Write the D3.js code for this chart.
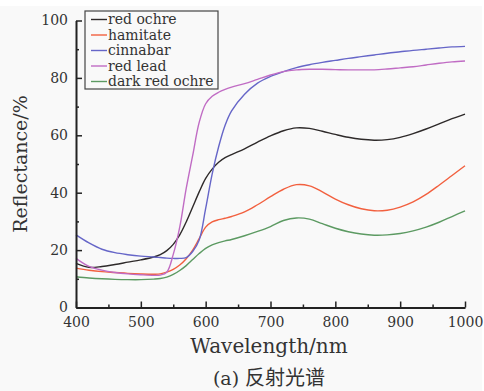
<!DOCTYPE html>
<html>
<head>
<meta charset="utf-8">
<script src="https://cdn.jsdelivr.net/npm/d3@7"></script>
<style>
  html, body { margin: 0; padding: 0; background: #ffffff; }
  svg { display: block; }
</style>
</head>
<body>
<svg id="chart" width="484" height="391"></svg>
<script>
// Reflectance spectra of red pigments
const wavelengths = [400,420,440,460,480,500,520,530,540,550,560,570,580,590,600,610,620,630,640,660,680,700,720,740,760,780,800,820,840,860,880,900,920,940,960,980,1000];

const redOchre = [15.4,14.0,14.3,15.0,15.8,16.6,17.6,18.4,19.8,22.0,25.3,29.8,35.0,40.3,45.0,48.2,50.6,52.2,53.3,55.3,57.6,59.8,61.6,62.6,62.4,61.4,60.3,59.3,58.6,58.3,58.5,59.3,60.6,62.2,64.0,65.8,67.4];
const hamitate = [13.7,13.0,12.5,12.2,11.9,11.7,11.6,11.7,12.3,13.3,14.8,17.0,20.0,24.0,28.0,29.8,30.6,31.1,31.7,33.3,35.8,38.6,41.2,42.8,42.4,40.3,37.8,35.8,34.4,33.7,33.9,35.0,36.8,39.4,42.6,46.0,49.4];
const cinnabar = [25.3,22.5,20.3,19.1,18.4,17.9,17.6,17.4,17.2,17.1,17.1,17.4,19.5,23.5,34.5,46.5,56.0,63.5,68.5,74.3,78.2,80.5,82.2,83.6,84.6,85.4,86.1,86.8,87.4,88.0,88.6,89.1,89.6,90.0,90.4,90.8,91.0];
const redLead = [17.1,14.3,13.0,12.2,11.7,11.4,11.2,11.3,12.3,18.5,28.0,41.5,53.0,64.5,71.0,73.6,75.0,76.0,76.8,78.0,79.5,81.0,82.2,82.8,83.0,83.0,82.9,82.8,82.8,82.8,83.1,83.5,83.9,84.5,85.1,85.6,85.9];
const darkRedOchre = [10.7,10.3,10.0,9.8,9.7,9.7,9.9,10.1,10.6,11.5,12.9,14.6,16.7,18.8,20.6,21.8,22.6,23.2,23.7,25.0,26.5,28.2,30.3,31.2,30.8,29.2,27.6,26.4,25.6,25.2,25.3,25.8,26.7,28.0,29.7,31.7,33.7];

const seriesNames = ["red ochre", "hamitate", "cinnabar", "red lead", "dark red ochre"];
const seriesValues = [redOchre, hamitate, cinnabar, redLead, darkRedOchre];
const seriesColors = ["#2e2a2a", "#f2603f", "#6666c8", "#c06cc4", "#5c9a62"];

const xTicks = [400, 500, 600, 700, 800, 900, 1000];
const yTicks = [0, 20, 40, 60, 80, 100];

const svg = d3.select("#chart");
const serif = "'DejaVu Serif', 'Liberation Serif', serif";

// light grey canvas under a thin white top strip
svg.append("rect").attr("x", 0).attr("y", 6).attr("width", 482).attr("height", 385).attr("fill", "#f9f9f9");

const plot = { left: 76, right: 465, top: 20.5, bottom: 307.5 };
const x = d3.scaleLinear().domain([400, 1000]).range([plot.left, plot.right]);
const y = d3.scaleLinear().domain([0, 100]).range([plot.bottom, plot.top]);

// curves
const line = d3.line()
  .x((d, i) => x(wavelengths[i]))
  .y(d => y(d))
  .curve(d3.curveCatmullRom.alpha(0.5));

seriesValues.forEach((vals, k) => {
  svg.append("path")
    .datum(vals)
    .attr("d", line)
    .attr("fill", "none")
    .attr("stroke", seriesColors[k])
    .attr("stroke-width", 1.4);
});

// axes (ticks pointing into the plot)
const fmt = d3.format("d");
const xAxis = svg.append("g").attr("transform", `translate(0,${plot.bottom})`)
  .call(d3.axisBottom(x).tickValues(xTicks).tickFormat(fmt).tickSizeInner(-6).tickSizeOuter(0).tickPadding(10));
const xMinor = svg.append("g").attr("transform", `translate(0,${plot.bottom})`)
  .call(d3.axisBottom(x).tickValues(d3.range(450, 1000, 100)).tickSize(-3).tickFormat(""));
const yAxis = svg.append("g").attr("transform", `translate(${plot.left},0)`)
  .call(d3.axisLeft(y).tickValues(yTicks).tickFormat(fmt).tickSizeInner(-6).tickSizeOuter(0).tickPadding(8));
const yMinor = svg.append("g").attr("transform", `translate(${plot.left},0)`)
  .call(d3.axisLeft(y).tickValues(d3.range(10, 100, 20)).tickSize(-3).tickFormat(""));

[xAxis, xMinor, yAxis, yMinor].forEach(g => {
  g.select(".domain").attr("stroke", "#222").attr("stroke-width", 2);
  g.selectAll(".tick line").attr("stroke", "#222").attr("stroke-width", 1.5);
  g.selectAll(".tick text").attr("font-family", serif).attr("font-size", 14).attr("fill", "#333");
});
xMinor.select(".domain").remove();
yMinor.select(".domain").remove();

// axis titles
svg.append("text")
  .attr("x", 269).attr("y", 353)
  .attr("text-anchor", "middle")
  .attr("font-family", serif).attr("font-size", 20).attr("fill", "#333")
  .text("Wavelength/nm");

svg.append("text")
  .attr("transform", "translate(27,164) rotate(-90)")
  .attr("text-anchor", "middle")
  .attr("font-family", serif).attr("font-size", 19).attr("fill", "#333")
  .text("Reflectance/%");

// caption
const cap = svg.append("text")
  .attr("x", 269).attr("y", 385)
  .attr("text-anchor", "middle")
  .attr("fill", "#333").attr("font-size", 19);
cap.append("tspan").attr("font-family", serif).text("(a) ");
cap.append("tspan").attr("font-family", "'Noto Sans CJK SC', sans-serif").attr("font-size", 20).text("反射光谱");

// legend
const legend = svg.append("g");
legend.append("rect")
  .attr("x", 85).attr("y", 11).attr("width", 133).attr("height", 78)
  .attr("fill", "#f9f9f9").attr("stroke", "#444").attr("stroke-width", 1.2);
seriesNames.forEach((name, k) => {
  const cy = 19.5 + k * 15.5;
  legend.append("line")
    .attr("x1", 91).attr("x2", 107).attr("y1", cy).attr("y2", cy)
    .attr("stroke", seriesColors[k]).attr("stroke-width", 1.4);
  legend.append("text")
    .attr("x", 108).attr("y", cy + 4.5)
    .attr("font-family", serif).attr("font-size", 14).attr("fill", "#333")
    .text(name);
});
</script>
</body>
</html>
